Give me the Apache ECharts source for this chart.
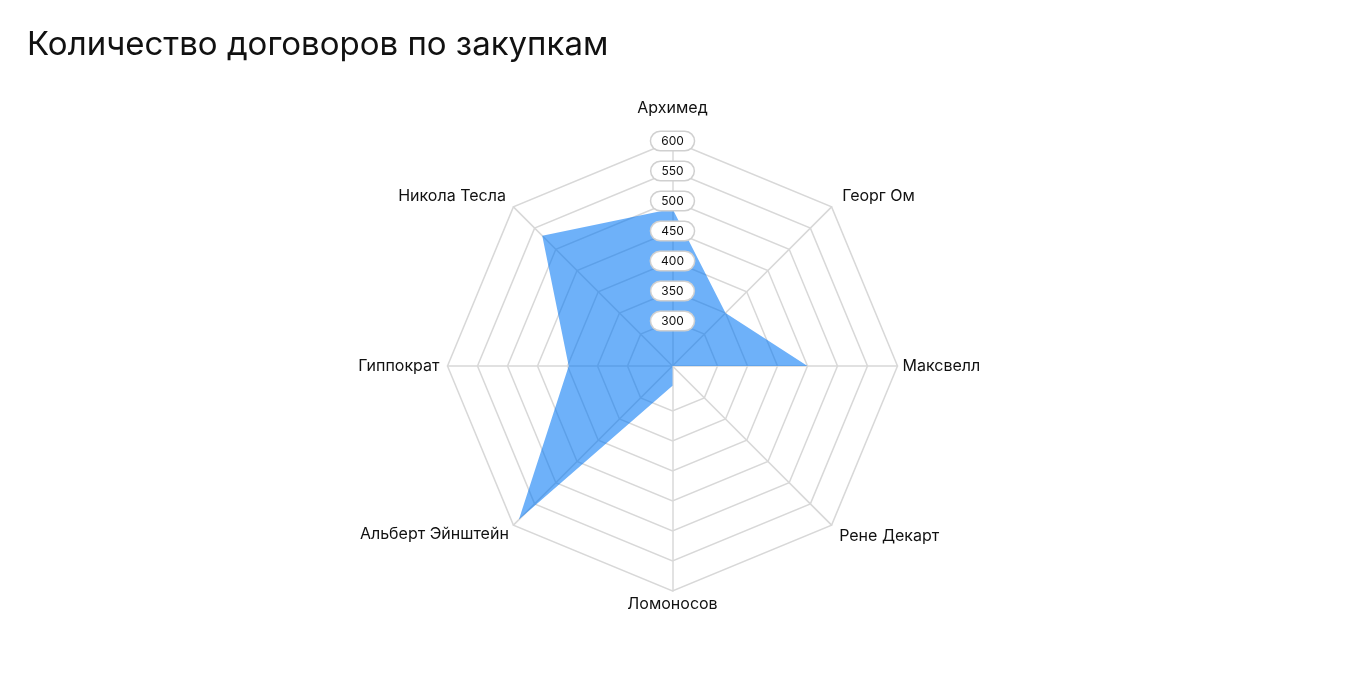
<!DOCTYPE html>
<html>
<head>
<meta charset="utf-8">
<style>
  html, body { margin: 0; padding: 0; background: #fff; }
  #chart { width: 1360px; height: 685px; }
</style>
<script src="https://cdn.jsdelivr.net/npm/echarts@6/dist/echarts.min.js"></script>
</head>
<body>
<div id="chart"></div>
<script>
const titleText = 'Количество договоров по закупкам';
// indicators in ECharts order (counter-clockwise from top)
const categories = ['Архимед', 'Никола Тесла', 'Гиппократ', 'Альберт Эйнштейн', 'Ломоносов', 'Рене Декарт', 'Максвелл', 'Георг Ом'];
const values = [487, 532, 398, 587, 258, 225, 450, 350];
const axisMin = 225;
const axisMax = 600;
const tickLabels = [300, 350, 400, 450, 500, 550, 600];

const FONT = 'Inter';
const TEXT = '#111';
const tickStep = 25;
const nRings = (axisMax - axisMin) / tickStep; // 15
const ringColors = [];
for (let i = 0; i <= nRings; i++) {
  const v = axisMin + i * tickStep;
  ringColors.push(tickLabels.indexOf(v) >= 0 ? '#d8d8d8' : 'rgba(0,0,0,0)');
}

// per-label fine placement (padding) of the indicator names
const namePad = {
  'Архимед': [0, 0, 20, 0],
  'Георг Ом': [0, 0, 14, 7],
  'Никола Тесла': [0, 4, 14, 0],
  'Рене Декарт': [16, 0, 0, 4],
  'Альберт Эйнштейн': [12, 1, 0, 0],
  'Гиппократ': [0, 3, 0, 0],
  'Максвелл': [0, 0, 0, 0],
  'Ломоносов': [0, 0, 0, 0]
};
const nameRich = {};
categories.forEach((n, i) => {
  nameRich['n' + i] = { fontFamily: FONT, fontSize: 16, color: TEXT, padding: namePad[n] };
});

const baseIndicator = categories.map(name => ({ name: name, min: axisMin, max: axisMax }));
const labelIndicator = categories.map((name, i) => {
  const o = { name: name, min: axisMin, max: axisMax };
  if (i === 0) o.axisLabel = { show: true };
  return o;
});

const common = {
  center: [672.5, 366],
  radius: 225,
  startAngle: 90,
  shape: 'polygon',
  splitNumber: nRings
};

const chart = echarts.init(document.getElementById('chart'), null, { renderer: 'canvas' });
chart.setOption({
  backgroundColor: '#ffffff',
  animation: false,
  title: {
    text: titleText,
    left: 22,
    top: 24,
    textStyle: { fontFamily: FONT, fontSize: 33, fontWeight: 'normal', color: TEXT }
  },
  radar: [
    Object.assign({}, common, {
      z: 0,
      indicator: baseIndicator,
      nameGap: 5,
      axisName: {
        color: TEXT,
        fontFamily: FONT,
        fontSize: 16,
        formatter: function (name) {
          return '{n' + categories.indexOf(name) + '|' + name + '}';
        },
        rich: nameRich
      },
      axisLine: { show: true, lineStyle: { color: '#d8d8d8', width: 1.5 } },
      splitLine: { show: true, lineStyle: { color: ringColors, width: 1.5 } },
      splitArea: { show: false },
      axisTick: { show: false },
      axisLabel: { show: false }
    }),
    Object.assign({}, common, {
      z: 10,
      indicator: labelIndicator,
      axisName: { show: false },
      axisLine: { show: false },
      splitLine: { show: false },
      splitArea: { show: false },
      axisTick: { show: false },
      axisLabel: {
        show: false,
        margin: 0,
        align: 'center',
        verticalAlign: 'middle',
        formatter: function (v) {
          const r = Math.round(v);
          return tickLabels.indexOf(r) >= 0 ? '{a|' + r + '}' : '';
        },
        rich: {
          a: {
            fontFamily: FONT, fontSize: 12, color: TEXT,
            backgroundColor: '#ffffff', borderColor: '#d0d0d0', borderWidth: 1.5,
            borderRadius: 10, padding: [3, 10]
          }
        }
      }
    })
  ],
  series: [{
    type: 'radar',
    radarIndex: 0,
    z: 2,
    symbol: 'none',
    lineStyle: { width: 0, opacity: 0 },
    areaStyle: { color: 'rgb(0,117,245)', opacity: 0.57 },
    data: [{ value: values, name: 'Договоры' }]
  }]
});
</script>
</body>
</html>
